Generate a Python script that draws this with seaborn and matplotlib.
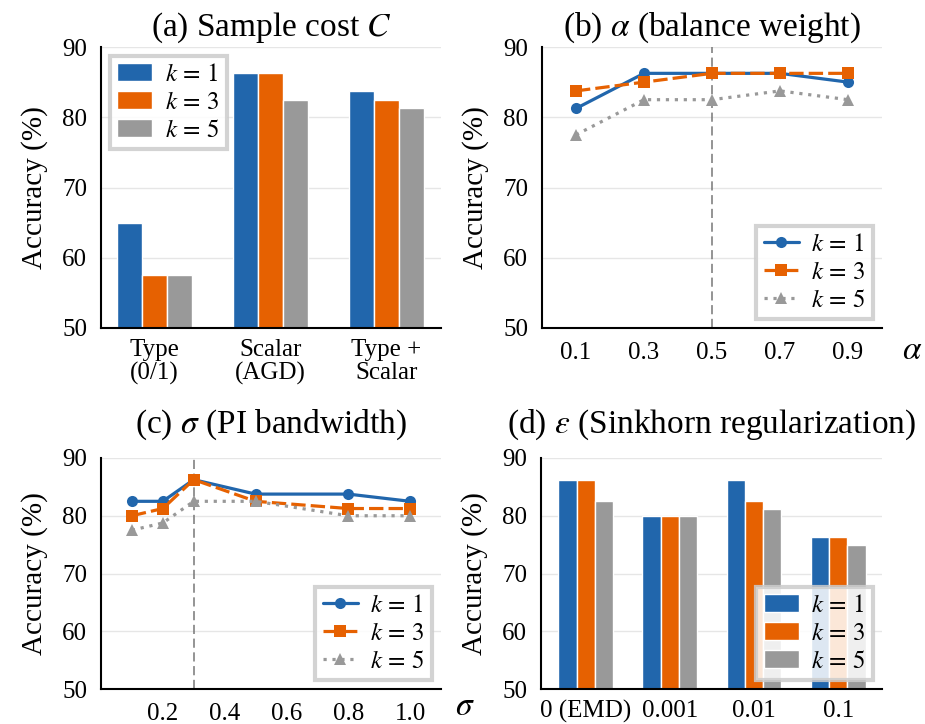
import numpy as np
import pandas as pd
import matplotlib
matplotlib.use("Agg")
import matplotlib.pyplot as plt
import seaborn as sns

# ---------------- data ----------------
k_labels = [r"$k\,=\,1$", r"$k\,=\,3$", r"$k\,=\,5$"]
colors = ["#2166ac", "#e66101", "#999999"]

cost_cats = ["Type\n(0/1)", "Scalar\n(AGD)", "Type +\nScalar"]
cost_k1 = [65.0, 86.25, 83.75]
cost_k3 = [57.5, 86.25, 82.5]
cost_k5 = [57.5, 82.5, 81.25]

alpha_vals = [0.1, 0.3, 0.5, 0.7, 0.9]
alpha_k1 = [81.25, 86.25, 86.25, 86.25, 85.0]
alpha_k3 = [83.75, 85.0, 86.25, 86.25, 86.25]
alpha_k5 = [77.5, 82.5, 82.5, 83.75, 82.5]

sigma_vals = [0.1, 0.2, 0.3, 0.5, 0.8, 1.0]
sigma_k1 = [82.5, 82.5, 86.25, 83.75, 83.75, 82.5]
sigma_k3 = [80.0, 81.25, 86.25, 82.5, 81.25, 81.25]
sigma_k5 = [77.5, 78.75, 82.5, 82.5, 80.0, 80.0]

eps_cats = ["0 (EMD)", "0.001", "0.01", "0.1"]
eps_k1 = [86.25, 80.0, 86.25, 76.25]
eps_k3 = [86.25, 80.0, 82.5, 76.25]
eps_k5 = [82.5, 80.0, 81.25, 75.0]

y_ticks = [50, 60, 70, 80, 90]


def long_df(xs, series):
    rows = []
    for lab, vals in zip(k_labels, series):
        for x, v in zip(xs, vals):
            rows.append({"x": x, "k": lab, "acc": v})
    return pd.DataFrame(rows)


# ---------------- style ----------------
sns.set_theme(style="white")
plt.rcParams["font.family"] = ["Liberation Serif", "DejaVu Serif"]
plt.rcParams["mathtext.fontset"] = "stix"
plt.rcParams["axes.edgecolor"] = "black"
plt.rcParams["axes.linewidth"] = 1.5
plt.rcParams["text.color"] = "black"
plt.rcParams["axes.labelcolor"] = "black"
plt.rcParams["xtick.color"] = "black"
plt.rcParams["ytick.color"] = "black"

fig = plt.figure(figsize=(9.25, 7.24), dpi=100)
W, H = 925, 724


def make_ax(l, t, r, b):
    return fig.add_axes([l / W, 1 - b / H, (r - l) / W, (b - t) / H])


ax_a = make_ax(101, 47, 441, 328)
ax_b = make_ax(542, 47, 882, 328)
ax_c = make_ax(101, 458, 441, 689)
ax_d = make_ax(541, 458, 882, 689)


def common(ax, title, tpad):
    ax.set_ylim(50, 90)
    ax.set_yticks(y_ticks)
    ax.yaxis.grid(True, color="#e6e6e6", lw=1)
    ax.xaxis.grid(False)
    ax.set_axisbelow(True)
    for s in ["top", "right"]:
        ax.spines[s].set_visible(False)
    ax.tick_params(axis="both", direction="in", length=8.5, width=1.5,
                   labelsize=18, pad=10)
    ax.set_ylabel("Accuracy (%)", fontsize=21, labelpad=10)
    ax.set_title(title, fontsize=24, pad=tpad)
    ax.set_xlabel("")


def style_legend(ax, loc):
    sns.move_legend(ax, loc, frameon=True, fancybox=False, fontsize=18,
                    title=None, borderaxespad=0.35, labelspacing=0.22,
                    handlelength=1.4, handletextpad=0.5, borderpad=0.3,
                    framealpha=0.85)
    leg = ax.get_legend()
    fr = leg.get_frame()
    fr.set_edgecolor("#cccccc")
    fr.set_linewidth(3)
    return leg


# (a) bars
df_a = long_df(cost_cats, [cost_k1, cost_k3, cost_k5])
sns.barplot(data=df_a, x="x", y="acc", hue="k", order=cost_cats,
            hue_order=k_labels, palette=colors, saturation=1, width=0.65,
            edgecolor="white", linewidth=1, errorbar=None, ax=ax_a)
common(ax_a, "(a) Sample cost $C$", 8)
ax_a.set_xlim(-0.46, 2.47)
ax_a.tick_params(axis="x", length=0, pad=8)
for t in ax_a.get_xticklabels():
    t.set_linespacing(1.05)
style_legend(ax_a, "upper left")

# line style settings
markers = ["o", "s", "^"]
dashes = ["", (4.5, 1.6), (1, 1.8)]

# (b) alpha
df_b = long_df(alpha_vals, [alpha_k1, alpha_k3, alpha_k5])
sns.lineplot(data=df_b, x="x", y="acc", hue="k", style="k",
             hue_order=k_labels, style_order=k_labels, palette=colors,
             markers=markers, dashes=dashes, lw=2.3, markersize=8,
             markeredgewidth=0, ax=ax_b)
common(ax_b, r"(b) $\alpha$ (balance weight)", 8)
ax_b.axvline(0.5, color="#777777", lw=1.1, ls=(0, (6, 3)), zorder=1)
ax_b.set_xlim(0, 1.0)
ax_b.set_xticks(alpha_vals)
ax_b.set_xticklabels(["0.1", "0.3", "0.5", "0.7", "0.9"])
ax_b.text(1.06, -0.08, r"$\alpha$", transform=ax_b.transAxes,
          fontsize=24, ha="left", va="center")
style_legend(ax_b, "lower right")

# (c) sigma
df_c = long_df(sigma_vals, [sigma_k1, sigma_k3, sigma_k5])
sns.lineplot(data=df_c, x="x", y="acc", hue="k", style="k",
             hue_order=k_labels, style_order=k_labels, palette=colors,
             markers=markers, dashes=dashes, lw=2.3, markersize=8,
             markeredgewidth=0, ax=ax_c)
common(ax_c, r"(c) $\sigma$ (PI bandwidth)", 18)
ax_c.axvline(0.3, color="#777777", lw=1.1, ls=(0, (6, 3)), zorder=1)
ax_c.set_xlim(0, 1.1)
ax_c.set_xticks([0.2, 0.4, 0.6, 0.8, 1.0])
ax_c.set_xticklabels(["0.2", "0.4", "0.6", "0.8", "1.0"])
ax_c.text(1.04, -0.075, r"$\sigma$", transform=ax_c.transAxes,
          fontsize=24, ha="left", va="center")
style_legend(ax_c, "lower right")

# (d) epsilon bars
df_d = long_df(eps_cats, [eps_k1, eps_k3, eps_k5])
sns.barplot(data=df_d, x="x", y="acc", hue="k", order=eps_cats,
            hue_order=k_labels, palette=colors, saturation=1, width=0.65,
            edgecolor="white", linewidth=1, errorbar=None, ax=ax_d)
common(ax_d, r"(d) $\varepsilon$ (Sinkhorn regularization)", 18)
ax_d.set_xlim(-0.53, 3.52)
ax_d.tick_params(axis="x", length=0, pad=8)
style_legend(ax_d, "lower right")

fig.savefig("out.png", dpi=100)
